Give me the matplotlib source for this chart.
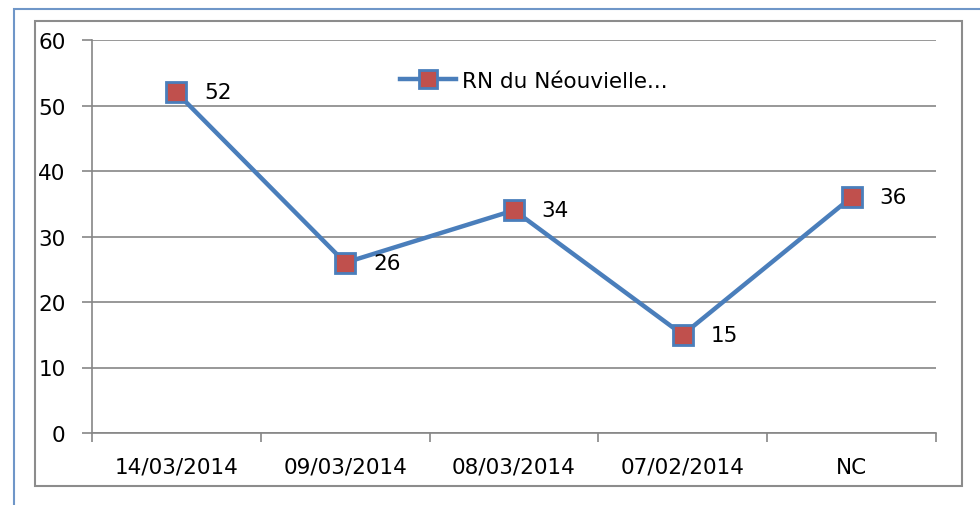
import matplotlib.pyplot as plt
from matplotlib.patches import Rectangle

categories = ["14/03/2014", "09/03/2014", "08/03/2014", "07/02/2014", "NC"]
values = [52, 26, 34, 15, 36]
series_name = "RN du Néouvielle..."

plt.rcParams['font.family'] = ['DejaVu Sans']
fs = 15.5

line_blue = "#4a7ebb"
marker_red = "#c0504d"
grid_gray = "#868686"

fig = plt.figure(figsize=(9.8, 5.06), dpi=100)
W, H = 980, 506

# Cadre extérieur bleu et cadre gris du graphique
fig.patches.append(Rectangle((14 / W, -0.1), 1.2, 1.1 - 10 / H, transform=fig.transFigure,
                             fill=False, edgecolor="#6f96c8", linewidth=1.5))
fig.patches.append(Rectangle((35 / W, 1 - 487 / H), (962 - 35) / W, (487 - 22) / H,
                             transform=fig.transFigure, fill=False, edgecolor="#8c8c8c",
                             linewidth=1.5))

ax = fig.add_axes([92 / W, 1 - 434 / H, (936 - 92) / W, (434 - 41) / H])
x = list(range(len(categories)))

ax.plot(x, values, color=line_blue, linewidth=3.2, marker="s", markersize=14.5,
        markerfacecolor=marker_red, markeredgecolor=line_blue, markeredgewidth=2,
        label=series_name, zorder=3)

for xi, v in zip(x, values):
    ax.annotate(str(v), (xi, v), xytext=(20, 0), textcoords="offset points",
                ha="left", va="center", fontsize=fs, color="black")

ax.set_xlim(-0.5, len(categories) - 0.5)
ax.set_ylim(0, 60)
ax.set_yticks(range(0, 61, 10))
ax.set_xticks(x)
ax.set_xticklabels(categories)
ax.set_xticks([i - 0.5 for i in range(len(categories) + 1)], minor=True)

ax.yaxis.grid(True, color=grid_gray, linewidth=1.2)
ax.set_axisbelow(True)
for side in ["top", "right"]:
    ax.spines[side].set_visible(False)
for side in ["left", "bottom"]:
    ax.spines[side].set_color(grid_gray)
    ax.spines[side].set_linewidth(1.2)

ax.tick_params(axis="y", length=7, width=1.2, color=grid_gray, pad=12, labelsize=fs)
ax.tick_params(axis="x", which="major", length=0, pad=17, labelsize=fs)
ax.tick_params(axis="x", which="minor", length=6.5, width=1.2, color=grid_gray)

ax.legend(loc="center left", bbox_to_anchor=(400 / W, 1 - 82 / H), bbox_transform=fig.transFigure,
          frameon=False, fontsize=fs, handlelength=2.6, borderpad=0, borderaxespad=0,
          handletextpad=0.3, markerscale=0.85)

fig.savefig("out.png", dpi=100)
